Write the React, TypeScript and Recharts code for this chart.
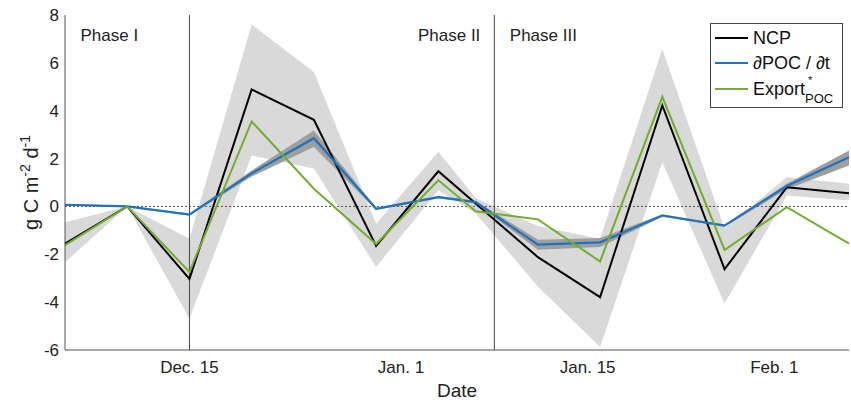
import React from 'react';
import {
  ComposedChart,
  Area,
  Line,
  XAxis,
  YAxis,
  ReferenceLine,
  ReferenceArea,
  Legend,
} from 'recharts';

const FONT = '"Liberation Sans", Arial, Helvetica, sans-serif';
const TEXT = '#222';
const AXIS = '#555';

// sample days (offset from first sample)
const DAYS = [0, 5, 10, 15, 20, 25, 30, 33, 38, 43, 48, 53, 58, 63];

const NCP = [-1.55, 0, -3.03, 4.89, 3.62, -1.65, 1.47, 0.12, -2.12, -3.79, 4.22, -2.62, 0.8, 0.55];
const NCP_HI = [-0.66, 0, -1.35, 7.6, 5.62, -0.72, 2.28, 0.35, -0.82, -1.35, 6.58, -0.92, 1.22, 0.95];
const NCP_LO = [-2.33, 0, -4.69, 2.13, 1.58, -2.53, 0.68, -0.28, -3.35, -5.87, 1.85, -4.06, 0.46, 0.25];

const POC = [0.07, 0, -0.34, 1.38, 2.85, -0.1, 0.39, 0.18, -1.6, -1.5, -0.38, -0.8, 0.85, 2.06];
const POC_HI = [0.1, 0.03, -0.3, 1.5, 3.17, -0.05, 0.44, 0.23, -1.39, -1.32, -0.33, -0.75, 0.95, 2.34];
const POC_LO = [0.04, -0.03, -0.38, 1.25, 2.48, -0.15, 0.34, 0.13, -1.81, -1.7, -0.43, -0.85, 0.72, 1.71];

const EXPORT = [-1.62, 0, -2.74, 3.55, 0.74, -1.57, 1.09, -0.2, -0.54, -2.3, 4.58, -1.82, -0.03, -1.55];

const TICK_DAYS = [10, 27, 42, 57];
const TICK_LABELS = ['Dec. 15', 'Jan. 1', 'Jan. 15', 'Feb. 1'];
const Y_TICKS = [-6, -4, -2, 0, 2, 4, 6, 8];

const PHASE_NAMES = ['Phase I', 'Phase II', 'Phase III'];
const PHASE_START = [0, 10, 34.5];
const PHASE_END = [10, 34.5, 63];
const PHASE_ALIGN = ['start', 'end', 'start'];

const LEGEND_ORDER = ['NCP', '∂POC / ∂t', 'Export'];

const data = DAYS.map((day, i) => ({
  day,
  ncp: NCP[i],
  poc: POC[i],
  exp: EXPORT[i],
  ncpBand: [NCP_LO[i], NCP_HI[i]],
  pocBand: [POC_LO[i], POC_HI[i]],
}));

const PhaseLabel = (props: any) => {
  const { viewBox, text, align } = props;
  if (!viewBox) return null;
  const x = align === 'end' ? viewBox.x + viewBox.width - 14 : viewBox.x + 15.5;
  return (
    <text x={x} y={viewBox.y + 25.5} textAnchor={align} fontSize={17} fill={TEXT} fontFamily={FONT}>
      {text}
    </text>
  );
};

const YTick = (props: any) => {
  const { x, y, payload } = props;
  return (
    <text x={x} y={y} dy="0.355em" textAnchor="end" fontSize={17} fill={TEXT} fontFamily={FONT}>
      {payload.value}
    </text>
  );
};

const YTitle = (props: any) => {
  const vb = props.viewBox || { x: 0, y: 15, width: 65, height: 335 };
  const cx = 38;
  const cy = vb.y + vb.height / 2;
  return (
    <text
      x={cx}
      y={cy}
      transform={`rotate(-90, ${cx}, ${cy})`}
      textAnchor="middle"
      fontSize={20}
      fill={TEXT}
      fontFamily={FONT}
    >
      g C m
      <tspan dy={-8} fontSize={14}>-2</tspan>
      <tspan dy={8}> d</tspan>
      <tspan dy={-8} fontSize={14}>-1</tspan>
    </text>
  );
};

const legendName = (name: string) => {
  if (name !== 'Export') return name;
  return (
    <span>
      Export
      <span style={{ position: 'relative', display: 'inline-block', width: 30, height: 10 }}>
        <span style={{ position: 'absolute', left: 3, top: -11, fontSize: 11, lineHeight: '12px' }}>*</span>
        <span style={{ position: 'absolute', left: 0, top: 7, fontSize: 13, lineHeight: '14px' }}>POC</span>
      </span>
    </span>
  );
};

const renderLegend = (props: any) => {
  const items = (props.payload || [])
    .filter((p: any) => p.type !== 'none')
    .sort((a: any, b: any) => LEGEND_ORDER.indexOf(a.value) - LEGEND_ORDER.indexOf(b.value));
  return (
    <div
      style={{
        width: 133,
        height: 85,
        boxSizing: 'border-box',
        border: '1px solid #444',
        background: '#fff',
        paddingTop: 1,
        fontFamily: FONT,
      }}
    >
      {items.map((item: any) => (
        <div key={item.value} style={{ display: 'flex', alignItems: 'center', height: 25.5 }}>
          <span
            style={{
              display: 'inline-block',
              width: 33,
              height: 2,
              background: item.color,
              marginLeft: 4,
              marginRight: 5,
            }}
          />
          <span style={{ fontSize: 18, color: '#111', lineHeight: '20px' }}>{legendName(item.value)}</span>
        </div>
      ))}
    </div>
  );
};

export default function App() {
  return (
    <div style={{ position: 'absolute', left: 0, top: 0 }}>
      <ComposedChart
        width={851}
        height={402}
        data={data}
        margin={{ top: 15, right: 2, bottom: 0, left: 0 }}
      >
        <XAxis
          dataKey="day"
          type="number"
          domain={[0, 63]}
          ticks={TICK_DAYS}
          interval={0}
          tickFormatter={(v: number) => TICK_LABELS[TICK_DAYS.indexOf(v)]}
          tick={{ fontSize: 17, fill: TEXT, fontFamily: FONT }}
          tickSize={0}
          tickMargin={11}
          tickLine={false}
          axisLine={{ stroke: AXIS }}
          height={52}
          label={{ value: 'Date', position: 'insideBottom', offset: 5, fontSize: 19, fill: TEXT, fontFamily: FONT }}
        />
        {/* inward tick marks on all four sides */}
        <XAxis
          xAxisId="bottomTicks"
          mirror
          type="number"
          domain={[0, 63]}
          ticks={TICK_DAYS}
          interval={0}
          tick={false}
          tickSize={7}
          tickLine={{ stroke: AXIS }}
          axisLine={false}
          height={0}
        />
        <XAxis
          xAxisId="top"
          orientation="top"
          mirror
          type="number"
          domain={[0, 63]}
          ticks={TICK_DAYS}
          interval={0}
          tick={false}
          tickSize={7}
          tickLine={{ stroke: AXIS }}
          axisLine={{ stroke: AXIS }}
          height={0}
        />
        <YAxis
          type="number"
          domain={[-6, 8]}
          ticks={Y_TICKS}
          interval={0}
          tick={<YTick />}
          tickSize={0}
          tickMargin={6}
          tickLine={false}
          axisLine={{ stroke: AXIS }}
          width={65}
          label={<YTitle />}
        />
        <YAxis
          yAxisId="leftTicks"
          mirror
          type="number"
          domain={[-6, 8]}
          ticks={Y_TICKS}
          interval={0}
          tick={false}
          tickSize={7}
          tickLine={{ stroke: AXIS }}
          axisLine={false}
          width={0}
        />
        <YAxis
          yAxisId="right"
          orientation="right"
          mirror
          type="number"
          domain={[-6, 8]}
          ticks={Y_TICKS}
          interval={0}
          tick={false}
          tickSize={7}
          tickLine={{ stroke: AXIS }}
          axisLine={{ stroke: AXIS }}
          width={0}
        />
        {PHASE_NAMES.map((name, i) => (
          <ReferenceArea
            key={name}
            x1={PHASE_START[i]}
            x2={PHASE_END[i]}
            fillOpacity={0}
            strokeOpacity={0}
            label={<PhaseLabel text={name} align={PHASE_ALIGN[i]} />}
          />
        ))}
        <Area
          dataKey="ncpBand"
          type="linear"
          stroke="none"
          fill="#d9d9d9"
          fillOpacity={1}
          legendType="none"
          isAnimationActive={false}
        />
        <Area
          dataKey="pocBand"
          type="linear"
          stroke="none"
          fill="#9e9e9e"
          fillOpacity={1}
          legendType="none"
          isAnimationActive={false}
        />
        <ReferenceLine y={0} stroke="#555" strokeDasharray="2 2" strokeWidth={1} />
        <ReferenceLine x={PHASE_START[1]} stroke="#444" strokeWidth={1} />
        <ReferenceLine x={PHASE_START[2]} stroke="#444" strokeWidth={1} />
        <Line dataKey="ncp" name="NCP" type="linear" stroke="#000" strokeWidth={2} dot={false} isAnimationActive={false} />
        <Line dataKey="poc" name="∂POC / ∂t" type="linear" stroke="#1f72bd" strokeWidth={2.2} dot={false} isAnimationActive={false} />
        <Line dataKey="exp" name="Export" type="linear" stroke="#72ad2e" strokeWidth={2} dot={false} isAnimationActive={false} />
        <Legend
          layout="vertical"
          align="center"
          verticalAlign="middle"
          content={renderLegend}
          wrapperStyle={{ left: 710, top: 23, width: 133, height: 85 }}
        />
      </ComposedChart>
    </div>
  );
}
